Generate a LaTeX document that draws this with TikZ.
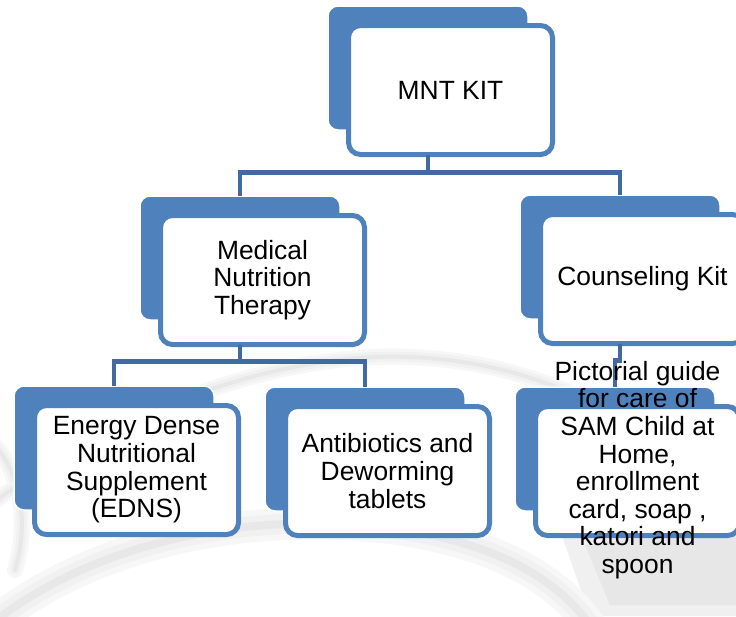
\documentclass[tikz,border=0pt]{standalone}
\usepackage{fontspec}
\setmainfont{Liberation Sans}
\definecolor{smblue}{RGB}{79,129,189}
\definecolor{connblue}{RGB}{66,106,160}
\tikzset{
  backbox/.style={rectangle, fill=smblue, draw=white, line width=1.5pt, rounded corners=10pt,
    minimum width=200pt, minimum height=124pt, inner sep=0pt, outer sep=0pt},
  frontbox/.style={rectangle, fill=white, draw=smblue, line width=5pt, rounded corners=12pt,
    minimum width=204pt, minimum height=129pt, inner sep=0pt, outer sep=0pt},
  conn/.style={draw=connblue, line width=4.6pt},
  lbl/.style={align=center, inner sep=0pt, font=\fontsize{26.4}{27.6}\selectfont},
  swoosh/.style={line cap=round}
}
\begin{document}
\begin{tikzpicture}[x=1pt, y=-1pt]
\useasboundingbox (0,0) rectangle (736,616);
\clip (0,0) rectangle (736,616);
\fill[white] (0,0) rectangle (736,616);
% background swooshes
\fill[gray!12] (560,530) -- (736,505) -- (736,616) -- (590,616) -- cycle;
\fill[gray!19] (585,545) -- (736,525) -- (736,605) -- (610,605) -- cycle;
\foreach \w/\c in {16/6,10/11,4/18} {
  \draw[swoosh, draw=gray!\c, line width=\w pt] (-10,505) .. controls (140,395) and (300,352) .. (410,357) .. controls (500,361) and (570,385) .. (660,440);
  \draw[swoosh, draw=gray!\c, line width=2*\w pt] (-10,625) .. controls (90,545) and (240,510) .. (390,528) .. controls (480,540) and (550,570) .. (590,625);
  \draw[swoosh, draw=gray!\c, line width=\w pt] (-10,440) .. controls (20,470) and (30,520) .. (15,570);
}
% back boxes
\node[backbox] (mntB) at (428,68) {};
\node[backbox] (medB) at (240,258) {};
\node[backbox] (couB) at (620,257) {};
\node[backbox] (eneB) at (114,448) {};
\node[backbox] (antB) at (365,449) {};
\node[backbox] (picB) at (615,449) {};
% front boxes
\node[frontbox] (mntF) at (450.5,90) {};
\node[frontbox] (medF) at (262.5,280) {};
\node[frontbox] (couF) at (642.5,279) {};
\node[frontbox] (eneF) at (136.5,470) {};
\node[frontbox] (antF) at (387.5,471) {};
\node[frontbox] (picF) at (637.5,471) {};
% connectors
\draw[conn] (mntB.center |- mntF.south) -- ++(0,18) coordinate (tj);
\draw[conn] (medB.north) |- (tj) -| (couB.north);
\draw[conn] (medB.center |- medF.south) -- ++(0,17) coordinate (mj);
\draw[conn] (eneB.north) |- (mj) -| (antB.north);
\draw[conn] (couB.center |- couF.south) -- ++(0,17) -| (picB.north);
% labels
\node[lbl] (mntT) at (mntF.center) {MNT KIT};
\node[lbl] (medT) at (medF.center) {Medical\\Nutrition\\Therapy};
\node[lbl] (couT) at (couF.center) {Counseling Kit};
\node[lbl] (eneT) at (eneF.center) {Energy Dense\\Nutritional\\Supplement\\(EDNS)};
\node[lbl] (antT) at (antF.center) {Antibiotics and\\Deworming\\tablets};
\node[lbl] (picT) at ([yshift=1pt]picF.center) {Pictorial guide\\for care of\\SAM Child at\\Home,\\enrollment\\card, soap ,\\katori and\\spoon};
\end{tikzpicture}
\end{document}
